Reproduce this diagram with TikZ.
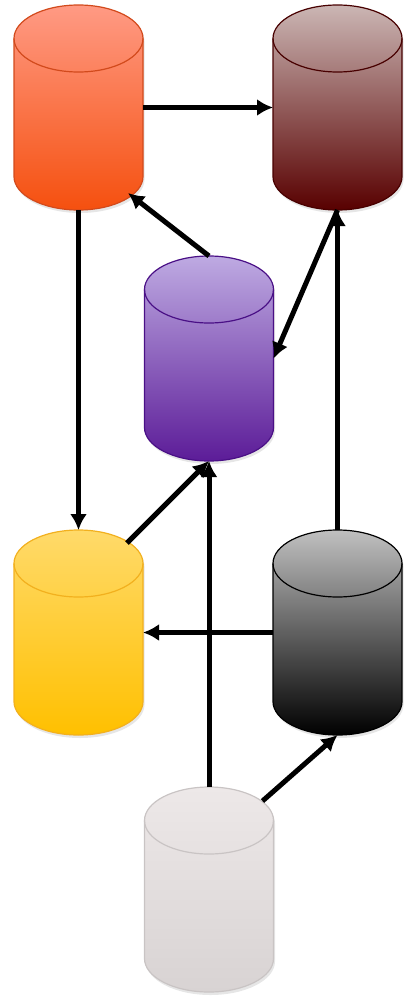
\documentclass[tikz,border=0pt]{standalone}
\usepackage{tikz}
\usetikzlibrary{shadows,arrows.meta}

\definecolor{redtop}{HTML}{FF9A84}
\definecolor{redbot}{HTML}{F5500F}
\definecolor{redline}{HTML}{D24A1C}
\definecolor{browntop}{HTML}{CBB6B4}
\definecolor{brownbot}{HTML}{580000}
\definecolor{brownline}{HTML}{480000}
\definecolor{purpletop}{HTML}{BEAAE2}
\definecolor{purplebot}{HTML}{5C1C98}
\definecolor{purpleline}{HTML}{4A1086}
\definecolor{yellowtop}{HTML}{FFDA6A}
\definecolor{yellowbot}{HTML}{FFC000}
\definecolor{yellowline}{HTML}{F2B01E}
\definecolor{graytop}{HTML}{C0C0C0}
\definecolor{graybot}{HTML}{000000}
\definecolor{grayline}{HTML}{000000}
\definecolor{lighttop}{HTML}{EDE8E8}
\definecolor{lightbot}{HTML}{D8D3D3}
\definecolor{lightline}{HTML}{C9C4C4}

\tikzset{
  dbbox/.style={minimum width=129pt, minimum height=205pt, inner sep=0pt, outer sep=0pt},
  dbbody/.style={line width=1.2pt,
    drop shadow={opacity=0.2, shadow xshift=1.5pt, shadow yshift=-3pt}},
  link/.style={-{Latex[length=16pt,width=17pt]}, line width=5pt}
}

% store: name, position, colour prefix
\newcommand{\store}[3]{%
  \node[dbbox] (#1) at (#2) {};
  \path[dbbody, draw=#3line, top color=#3top, bottom color=#3bot]
    ([yshift=-33.5pt]#1.north west) -- ([yshift=33.5pt]#1.south west)
    arc[start angle=180, end angle=360, x radius=64.5pt, y radius=33.5pt]
    -- ([yshift=-33.5pt]#1.north east)
    arc[start angle=0, end angle=180, x radius=64.5pt, y radius=33.5pt] -- cycle;
  \draw[line width=1.2pt, draw=#3line] ([yshift=-33.5pt]#1.north west)
    arc[start angle=180, end angle=360, x radius=64.5pt, y radius=33.5pt];
}

\begin{document}
\begin{tikzpicture}[x=1pt,y=-1pt]
\useasboundingbox (0,0) rectangle (405,998);
% stores
\store{red}{78.5,107.5}{red}
\store{brown}{337.5,107.5}{brown}
\store{purple}{209,358.5}{purple}
\store{yellow}{78.5,632.5}{yellow}
\store{gray}{337.5,632.5}{gray}
\store{light}{209,889.5}{light}
% links
\draw[link] (red.east) -- (brown.west);
\draw[link] (red.south) -- (yellow.north);
\draw[link] (purple.north) -- ([shift={(-15pt,17pt)}]red.south east);
\draw[link] (gray.north) -- (brown.south);
\draw[link] (brown.south) -- (purple.east);
\draw[link] ([shift={(-16pt,-13pt)}]yellow.north east) -- (purple.south);
\draw[link] (light.north) -- (purple.south);
\draw[link] (gray.west) -- (yellow.east);
\draw[link] ([shift={(-11pt,-14pt)}]light.north east) -- (gray.south);
\end{tikzpicture}
\end{document}
